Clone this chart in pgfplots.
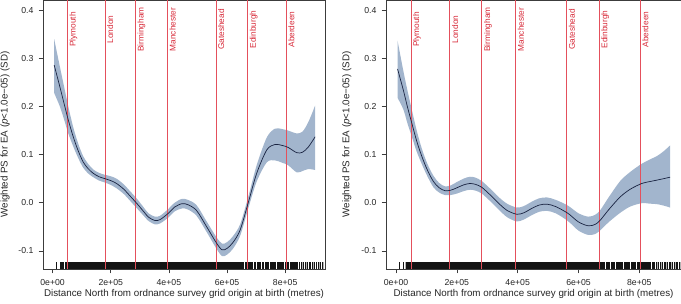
\documentclass[border=0pt]{standalone}
\usepackage{pgfplots}
\pgfplotsset{compat=1.18}
\usepgfplotslibrary{fillbetween}
\usepackage{pgfplotstable}
\usepackage{fontspec}
\setmainfont{Liberation Sans}
\definecolor{bandcol}{RGB}{162,181,205}
\definecolor{meancol}{RGB}{25,35,65}
\definecolor{cityline}{RGB}{228,80,92}
\definecolor{citytext}{RGB}{215,40,55}
\definecolor{boxcol}{RGB}{60,60,60}

\pgfplotstableread{
x mean lo up
5500 0.286 0.228 0.340
25000 0.241 0.200 0.283
40000 0.205 0.172 0.240
54000 0.172 0.144 0.200
71000 0.137 0.117 0.157
88000 0.108 0.093 0.123
105000 0.085 0.073 0.097
122000 0.071 0.061 0.081
140000 0.061 0.053 0.069
160000 0.054 0.046 0.062
180000 0.050 0.042 0.058
200000 0.046 0.037 0.055
220000 0.040 0.030 0.050
245000 0.028 0.018 0.038
268000 0.013 0.003 0.023
289000 -0.001 -0.011 0.009
310000 -0.016 -0.025 -0.007
330000 -0.030 -0.038 -0.022
352000 -0.037 -0.045 -0.029
370000 -0.035 -0.043 -0.027
398000 -0.022 -0.031 -0.013
420000 -0.009 -0.018 0.000
445000 -0.002 -0.012 0.008
465000 -0.004 -0.014 0.006
495000 -0.016 -0.027 -0.005
530000 -0.050 -0.061 -0.039
564000 -0.084 -0.096 -0.072
583000 -0.098 -0.111 -0.085
600000 -0.095 -0.108 -0.082
620000 -0.083 -0.096 -0.070
645000 -0.057 -0.069 -0.045
673000 0.000 -0.012 0.012
702000 0.061 0.044 0.078
737000 0.110 0.084 0.136
765000 0.121 0.088 0.154
790000 0.119 0.083 0.153
810000 0.115 0.078 0.150
840000 0.104 0.063 0.144
860000 0.105 0.066 0.148
880000 0.116 0.070 0.168
903000 0.137 0.068 0.202
}\leftdata

\pgfplotstableread{
x mean lo up
5000 0.278 0.218 0.337
24000 0.234 0.194 0.274
38000 0.198 0.164 0.232
52000 0.165 0.137 0.193
68000 0.128 0.106 0.150
85000 0.096 0.080 0.112
103000 0.068 0.055 0.081
123000 0.044 0.032 0.056
142000 0.031 0.021 0.041
161000 0.025 0.016 0.034
180000 0.026 0.016 0.036
200000 0.031 0.019 0.043
222000 0.037 0.024 0.050
243000 0.040 0.027 0.054
262000 0.038 0.025 0.052
282000 0.032 0.019 0.045
310000 0.016 0.003 0.029
337000 -0.001 -0.014 0.012
365000 -0.016 -0.030 -0.002
397000 -0.024 -0.039 -0.010
420000 -0.021 -0.035 -0.007
446000 -0.012 -0.026 0.002
470000 -0.005 -0.019 0.009
496000 -0.003 -0.017 0.011
525000 -0.008 -0.022 0.006
565000 -0.022 -0.038 -0.006
600000 -0.040 -0.058 -0.022
632000 -0.048 -0.067 -0.029
655000 -0.045 -0.065 -0.025
672000 -0.036 -0.057 -0.015
700000 -0.014 -0.040 0.012
737000 0.012 -0.021 0.045
770000 0.028 -0.008 0.064
808000 0.040 -0.001 0.081
835000 0.044 -0.002 0.090
858000 0.047 -0.003 0.097
880000 0.050 -0.006 0.107
901000 0.053 -0.010 0.119
}\rightdata

\tikzset{city/.style={rotate=90, anchor=north, inner sep=2pt, text=citytext, font=\fontsize{8.3}{9}\selectfont}}

\pgfplotsset{
  panel/.style={
    scale only axis, height=269pt,
    xmin=-33000, xmax=937000, ymin=-0.1378, ymax=0.4214,
    axis line style={boxcol, line width=0.5pt},
    tick align=outside, tick pos=left,
    major tick length=4.5pt,
    tick style={boxcol, line width=0.5pt},
    xtick={0,200000,400000,600000,800000},
    xticklabels={0e+00,2e+05,4e+05,6e+05,8e+05},
    ytick={-0.1,0,0.1,0.2,0.3,0.4},
    yticklabels={-0.1,0.0,0.1,0.2,0.3,0.4},
    scaled x ticks=false,
    ticklabel style={font=\fontsize{8.7}{10}\selectfont, text=black!85},
    xticklabel style={yshift=-2.5pt},
    yticklabel style={xshift=-1.5pt},
    every axis x label/.style={at={(axis description cs:0.5,0)}, anchor=center, yshift=-25pt, font=\fontsize{9.8}{11}\selectfont, text=black!85},
    xlabel={Distance North from ordnance survey grid origin at birth (metres)},
    ylabel={Weighted PS for EA (\textit{p}<1.0e−05) (SD)},
    unbounded coords=jump,
  },
}

\begin{document}
\begin{tikzpicture}

% ---------- left panel ----------
\begin{axis}[panel, at={(43pt,34pt)}, anchor=south west, width=282pt,
  every axis y label/.style={at={(axis description cs:-0.1348,0.5)}, rotate=90, anchor=center, font=\fontsize{9.8}{11}\selectfont, text=black!85}]
\addplot[name path=lup, draw=none, smooth] table[x=x, y=up] {\leftdata};
\addplot[name path=llo, draw=none, smooth] table[x=x, y=lo] {\leftdata};
\addplot[bandcol, draw=none] fill between[of=lup and llo];
% rug
\addplot[name path=ra, draw=none] coordinates {(8000,-0.1225) (935000,-0.1225)};
\addplot[name path=rb, draw=none] coordinates {(8000,-0.1378) (935000,-0.1378)};
\addplot[black!92, draw=none] fill between[of=ra and rb];
\addplot[white, line width=0.6pt] coordinates {
(11000,-0.1378) (11000,-0.1225) (11000,nan)
(15500,-0.1378) (15500,-0.1225) (15500,nan)
(19000,-0.1378) (19000,-0.1225) (19000,nan)
(24000,-0.1378) (24000,-0.1225) (24000,nan)
(40000,-0.1378) (40000,-0.1225) (40000,nan)
(658000,-0.1378) (658000,-0.1225) (658000,nan)
(690000,-0.1378) (690000,-0.1225) (690000,nan)
(700000,-0.1378) (700000,-0.1225) (700000,nan)
(718000,-0.1378) (718000,-0.1225) (718000,nan)
(728000,-0.1378) (728000,-0.1225) (728000,nan)
(745000,-0.1378) (745000,-0.1225) (745000,nan)
(770000,-0.1378) (770000,-0.1225) (770000,nan)
(797000,-0.1378) (797000,-0.1225) (797000,nan)
(815000,-0.1378) (815000,-0.1225) (815000,nan)
(845000,-0.1378) (845000,-0.1225) (845000,nan)
(852000,-0.1378) (852000,-0.1225) (852000,nan)
(866000,-0.1378) (866000,-0.1225) (866000,nan)
(880000,-0.1378) (880000,-0.1225) (880000,nan)
(890000,-0.1378) (890000,-0.1225) (890000,nan)
(902000,-0.1378) (902000,-0.1225) (902000,nan)
(910000,-0.1378) (910000,-0.1225) (910000,nan)
(924000,-0.1378) (924000,-0.1225) (924000,nan)
};
\addplot[gray!60, line width=0.8pt] coordinates {
(860000,-0.1378) (860000,-0.1225) (860000,nan)
(874000,-0.1378) (874000,-0.1225) (874000,nan)
(896000,-0.1378) (896000,-0.1225) (896000,nan)
(918000,-0.1378) (918000,-0.1225) (918000,nan)
(930000,-0.1378) (930000,-0.1225) (930000,nan)
};
% city lines
\addplot[cityline, line width=0.75pt] coordinates {
(51000,-0.14) (51000,0.43) (51000,nan)
(180000,-0.14) (180000,0.43) (180000,nan)
(285000,-0.14) (285000,0.43) (285000,nan)
(395000,-0.14) (395000,0.43) (395000,nan)
(562000,-0.14) (562000,0.43) (562000,nan)
(671000,-0.14) (671000,0.43) (671000,nan)
(803000,-0.14) (803000,0.43) (803000,nan)
};
\addplot[meancol, line width=0.7pt, smooth] table[x=x, y=mean] {\leftdata};
\node[city] at (axis cs:51000,0.36) {Plymouth};
\node[city] at (axis cs:180000,0.36) {London};
\node[city] at (axis cs:285000,0.36) {Birmingham};
\node[city] at (axis cs:395000,0.36) {Manchester};
\node[city] at (axis cs:562000,0.36) {Gateshead};
\node[city] at (axis cs:671000,0.36) {Edinburgh};
\node[city] at (axis cs:803000,0.36) {Aberdeen};
\end{axis}

% ---------- right panel ----------
\begin{axis}[panel, at={(386pt,34pt)}, anchor=south west, width=295pt,
  every axis y label/.style={at={(axis description cs:-0.133,0.5)}, rotate=90, anchor=center, font=\fontsize{9.8}{11}\selectfont, text=black!85}]
\addplot[name path=rup, draw=none, smooth] table[x=x, y=up] {\rightdata};
\addplot[name path=rlo, draw=none, smooth] table[x=x, y=lo] {\rightdata};
\addplot[bandcol, draw=none] fill between[of=rup and rlo];
% rug
\addplot[name path=sa, draw=none] coordinates {(7600,-0.1225) (940000,-0.1225)};
\addplot[name path=sb, draw=none] coordinates {(7600,-0.1378) (940000,-0.1378)};
\addplot[black!92, draw=none] fill between[of=sa and sb];
\addplot[white, line width=0.6pt] coordinates {
(9000,-0.1378) (9000,-0.1225) (9000,nan)
(13000,-0.1378) (13000,-0.1225) (13000,nan)
(17000,-0.1378) (17000,-0.1225) (17000,nan)
(22000,-0.1378) (22000,-0.1225) (22000,nan)
(28000,-0.1378) (28000,-0.1225) (28000,nan)
(688000,-0.1378) (688000,-0.1225) (688000,nan)
(703000,-0.1378) (703000,-0.1225) (703000,nan)
(722000,-0.1378) (722000,-0.1225) (722000,nan)
(748000,-0.1378) (748000,-0.1225) (748000,nan)
(770000,-0.1378) (770000,-0.1225) (770000,nan)
(790000,-0.1378) (790000,-0.1225) (790000,nan)
(838000,-0.1378) (838000,-0.1225) (838000,nan)
(853000,-0.1378) (853000,-0.1225) (853000,nan)
(866000,-0.1378) (866000,-0.1225) (866000,nan)
(880000,-0.1378) (880000,-0.1225) (880000,nan)
(895000,-0.1378) (895000,-0.1225) (895000,nan)
(912000,-0.1378) (912000,-0.1225) (912000,nan)
(928000,-0.1378) (928000,-0.1225) (928000,nan)
};
\addplot[gray!60, line width=0.8pt] coordinates {
(31000,-0.1378) (31000,-0.1225) (31000,nan)
(860000,-0.1378) (860000,-0.1225) (860000,nan)
(872000,-0.1378) (872000,-0.1225) (872000,nan)
(888000,-0.1378) (888000,-0.1225) (888000,nan)
(905000,-0.1378) (905000,-0.1225) (905000,nan)
(920000,-0.1378) (920000,-0.1225) (920000,nan)
(935000,-0.1378) (935000,-0.1225) (935000,nan)
};
% city lines
\addplot[cityline, line width=0.75pt] coordinates {
(49000,-0.14) (49000,0.43) (49000,nan)
(177000,-0.14) (177000,0.43) (177000,nan)
(282000,-0.14) (282000,0.43) (282000,nan)
(393000,-0.14) (393000,0.43) (393000,nan)
(561000,-0.14) (561000,0.43) (561000,nan)
(668000,-0.14) (668000,0.43) (668000,nan)
(803000,-0.14) (803000,0.43) (803000,nan)
};
\addplot[meancol, line width=0.7pt, smooth] table[x=x, y=mean] {\rightdata};
\node[city] at (axis cs:49000,0.36) {Plymouth};
\node[city] at (axis cs:177000,0.36) {London};
\node[city] at (axis cs:282000,0.36) {Birmingham};
\node[city] at (axis cs:393000,0.36) {Manchester};
\node[city] at (axis cs:561000,0.36) {Gateshead};
\node[city] at (axis cs:668000,0.36) {Edinburgh};
\node[city] at (axis cs:803000,0.36) {Aberdeen};
\end{axis}
\pgfresetboundingbox
\path[use as bounding box] (0pt,0pt) rectangle (681pt,303pt);
\end{tikzpicture}
\end{document}
